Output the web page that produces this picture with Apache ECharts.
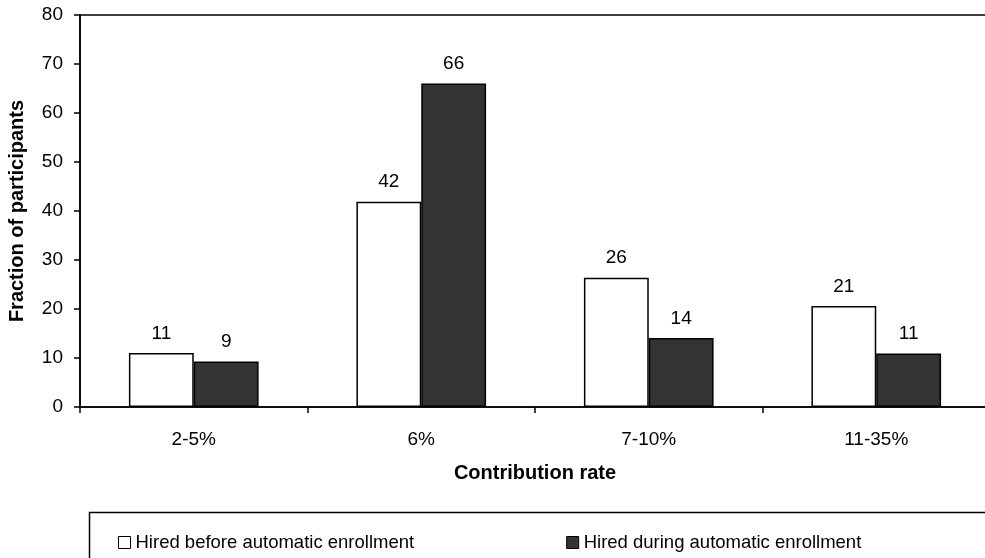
<!DOCTYPE html>
<html>
<head>
<meta charset="utf-8">
<script src="https://cdn.jsdelivr.net/npm/echarts@6/dist/echarts.min.js"></script>
<style>
html,body{margin:0;padding:0;background:#fff;}
#chart{width:985px;height:558px;}
</style>
</head>
<body>
<div id="chart"></div>
<script>
var categories = ['2-5%', '6%', '7-10%', '11-35%'];
var hiredBefore = [11.0, 41.9, 26.4, 20.6];
var hiredDuring = [9.3, 66.0, 14.1, 10.9];
var yTicks = [0, 10, 20, 30, 40, 50, 60, 70, 80];
var seriesNames = ['Hired before automatic enrollment', 'Hired during automatic enrollment'];

var FONT = '"Liberation Sans", Arial, Helvetica, sans-serif';
var chart = echarts.init(document.getElementById('chart'));

function labelCfg() {
  return {
    show: true, position: 'top', distance: 10,
    color: '#000', fontFamily: FONT, fontSize: 19,
    formatter: function (p) { return Math.round(p.value); }
  };
}

chart.setOption({
  animation: false,
  backgroundColor: '#fff',
  textStyle: { fontFamily: FONT },
  grid: {
    left: 80, top: 15, width: 910, bottom: 151,
    outerBoundsMode: 'none', containLabel: false,
    show: true, borderColor: '#000', borderWidth: 1.5, backgroundColor: 'transparent'
  },
  legend: {
    left: 113, top: 528,
    itemWidth: 12, itemHeight: 12, itemGap: 152,
    icon: 'rect',
    textStyle: { fontFamily: FONT, fontSize: 18.5, color: '#000' },
    itemStyle: { borderColor: '#000', borderWidth: 1 },
    data: seriesNames
  },
  graphic: [{
    type: 'rect', left: 87, top: 510,
    shape: { width: 920, height: 80 },
    style: { fill: 'none', stroke: '#000', lineWidth: 1.5 },
    z: 100
  }],
  xAxis: {
    type: 'category', data: categories,
    name: 'Contribution rate', nameLocation: 'middle', nameGap: 56,
    nameTextStyle: { fontFamily: FONT, fontSize: 20, fontWeight: 'bold', color: '#000' },
    axisLine: { lineStyle: { color: '#000', width: 1.5 } },
    axisTick: { show: true, length: 6, lineStyle: { color: '#000', width: 1.5 } },
    axisLabel: { color: '#000', fontFamily: FONT, fontSize: 19, margin: 23 },
    splitLine: { show: false }
  },
  yAxis: {
    type: 'value', min: yTicks[0], max: yTicks[yTicks.length - 1], interval: 10,
    name: 'Fraction of participants', nameLocation: 'middle', nameGap: 53,
    nameTextStyle: { fontFamily: FONT, fontSize: 20, fontWeight: 'bold', color: '#000' },
    axisLine: { show: true, lineStyle: { color: '#000', width: 1.5 } },
    axisTick: { show: true, length: 6, lineStyle: { color: '#000', width: 1.5 } },
    axisLabel: { color: '#000', fontFamily: FONT, fontSize: 19, margin: 17 },
    splitLine: { show: false }
  },
  series: [
    {
      name: seriesNames[0], type: 'bar', data: hiredBefore,
      barGap: '0%', barCategoryGap: '43%',
      itemStyle: { color: '#ffffff', borderColor: '#000', borderWidth: 1.5 },
      label: labelCfg()
    },
    {
      name: seriesNames[1], type: 'bar', data: hiredDuring,
      itemStyle: { color: '#333333', borderColor: '#000', borderWidth: 1.5 },
      label: labelCfg()
    }
  ]
});
</script>
</body>
</html>
